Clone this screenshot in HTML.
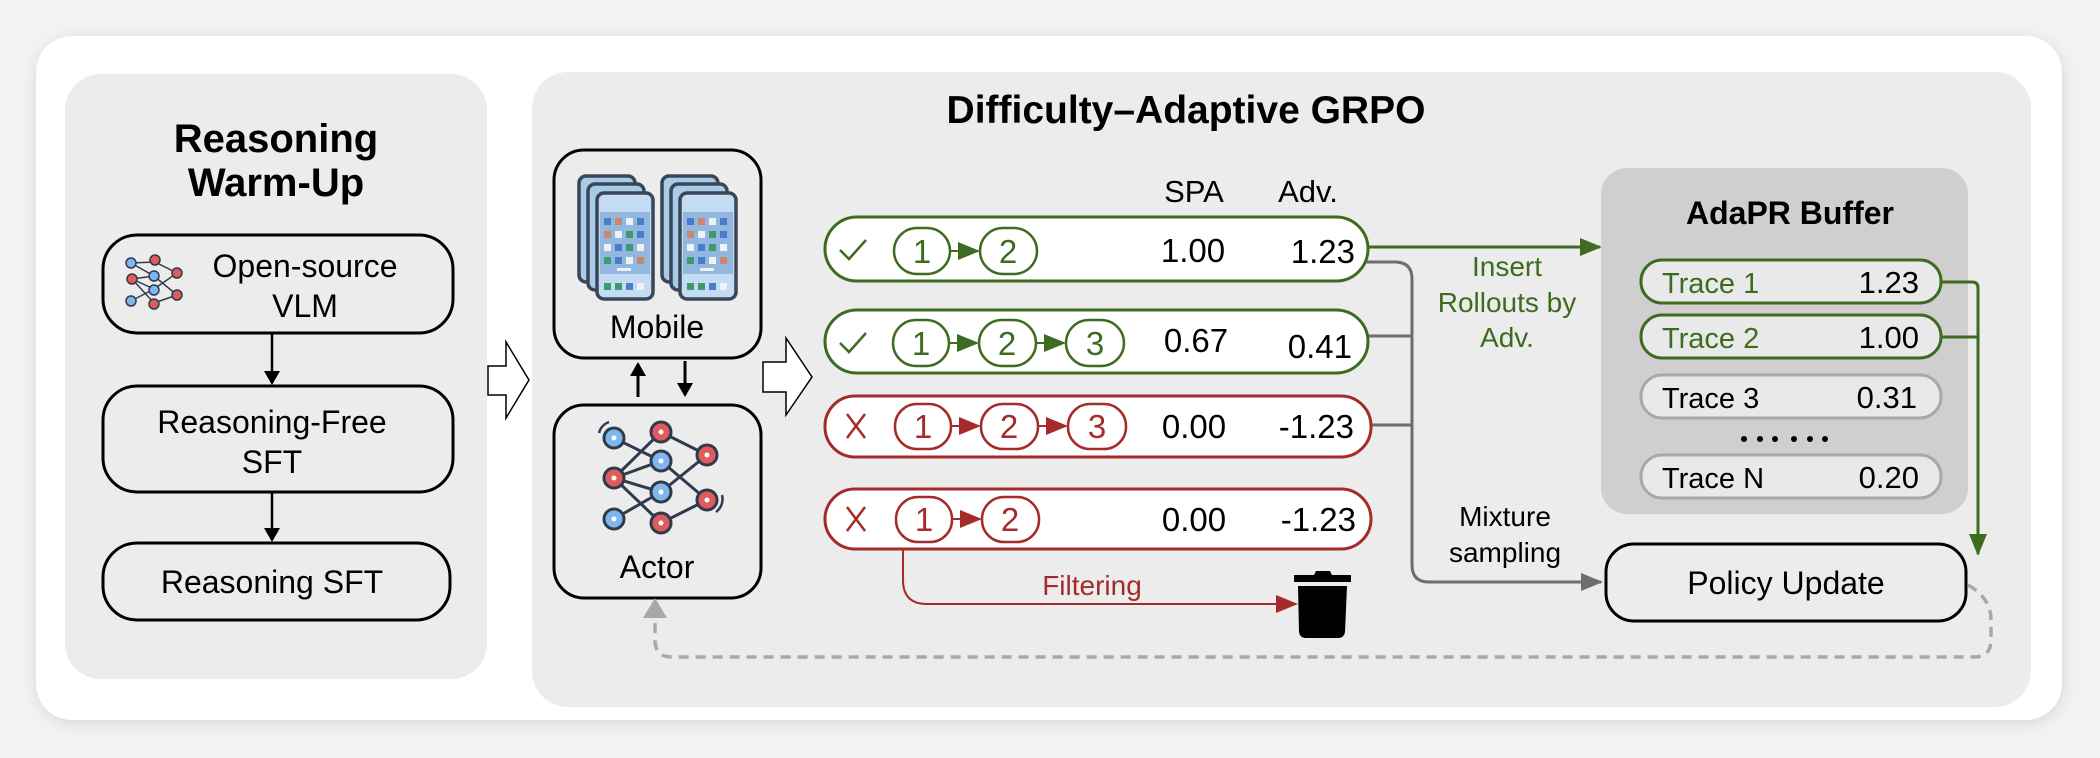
<!DOCTYPE html>
<html><head><meta charset="utf-8"><style>
html,body{margin:0;padding:0;background:#f2f2f2;}
svg{display:block;font-family:"Liberation Sans",Arial,sans-serif;}
</style></head><body>
<svg width="2100" height="758" viewBox="0 0 2100 758" xmlns="http://www.w3.org/2000/svg">
<defs>
<filter id="sh" x="-5%" y="-10%" width="110%" height="120%"><feGaussianBlur stdDeviation="8"/></filter>
<marker id="ab" markerWidth="14" markerHeight="16" refX="12" refY="8" orient="auto" markerUnits="userSpaceOnUse"><path d="M0,0 L14,8 L0,16 z" fill="#000"/></marker>
<marker id="ag" markerWidth="22" markerHeight="18" refX="20" refY="9" orient="auto" markerUnits="userSpaceOnUse"><path d="M0,0 L22,9 L0,18 z" fill="#3d6b1f"/></marker>
<marker id="agr" markerWidth="22" markerHeight="18" refX="20" refY="9" orient="auto" markerUnits="userSpaceOnUse"><path d="M0,0 L22,9 L0,18 z" fill="#6e6e6e"/></marker>
<marker id="ar" markerWidth="22" markerHeight="18" refX="20" refY="9" orient="auto" markerUnits="userSpaceOnUse"><path d="M0,0 L22,9 L0,18 z" fill="#a52a2a"/></marker>
<marker id="ad" markerWidth="20" markerHeight="24" refX="18" refY="12" orient="auto" markerUnits="userSpaceOnUse"><path d="M0,0 L20,12 L0,24 z" fill="#a8a8a8"/></marker>
</defs>
<rect x="0" y="0" width="2100" height="758" fill="#f2f2f2"/>
<rect x="38" y="40" width="2024" height="682" rx="36" fill="#000" opacity="0.12" filter="url(#sh)"/>
<rect x="36" y="36" width="2026" height="684" rx="36" fill="#fff"/>
<!-- left panel -->
<rect x="65" y="74" width="422" height="605" rx="36" fill="#ececec"/>
<text x="276" y="152" font-size="40" font-weight="bold" text-anchor="middle">Reasoning</text>
<text x="276" y="196" font-size="40" font-weight="bold" text-anchor="middle">Warm-Up</text>
<rect x="103" y="235" width="350" height="98" rx="34" fill="#ececec" stroke="#000" stroke-width="3"/>
<g stroke="#2f3b4c" stroke-width="1.5">
<line x1="131" y1="263" x2="155" y2="262"/><line x1="131" y1="263" x2="154" y2="276"/><line x1="132" y1="279" x2="154" y2="276"/><line x1="132" y1="279" x2="154" y2="289"/><line x1="131" y1="301" x2="154" y2="289"/><line x1="155" y1="262" x2="177" y2="273"/><line x1="154" y1="276" x2="177" y2="295"/><line x1="154" y1="289" x2="177" y2="273"/><line x1="154" y1="303" x2="177" y2="295"/><line x1="132" y1="279" x2="154" y2="303"/>
</g>
<g stroke="#2f3b4c" stroke-width="1.5">
<circle cx="131" cy="263" r="5" fill="#7fb6ee"/><circle cx="132" cy="279" r="5" fill="#e05b5b"/><circle cx="131" cy="301" r="5" fill="#7fb6ee"/>
<circle cx="155" cy="260" r="5" fill="#e05b5b"/><circle cx="154" cy="276" r="5" fill="#7fb6ee"/><circle cx="154" cy="290" r="5" fill="#7fb6ee"/><circle cx="154" cy="304" r="5" fill="#e05b5b"/>
<circle cx="177" cy="273" r="5" fill="#e05b5b"/><circle cx="177" cy="295" r="5" fill="#e05b5b"/>
</g>
<text x="305" y="277" font-size="32" text-anchor="middle">Open-source</text>
<text x="305" y="317" font-size="32" text-anchor="middle">VLM</text>
<line x1="272" y1="334" x2="272" y2="383" stroke="#000" stroke-width="2.5" marker-end="url(#ab)"/>
<rect x="103" y="386" width="350" height="106" rx="34" fill="#ececec" stroke="#000" stroke-width="3"/>
<text x="272" y="433" font-size="32" text-anchor="middle">Reasoning-Free</text>
<text x="272" y="473" font-size="32" text-anchor="middle">SFT</text>
<line x1="272" y1="493" x2="272" y2="540" stroke="#000" stroke-width="2.5" marker-end="url(#ab)"/>
<rect x="103" y="543" width="347" height="77" rx="34" fill="#ececec" stroke="#000" stroke-width="3"/>
<text x="272" y="593" font-size="32" text-anchor="middle">Reasoning SFT</text>
<path d="M488,366 L506,366 L506,342 L529,380 L506,418 L506,395 L488,395 Z" fill="#fff" stroke="#000" stroke-width="1.5"/>
<!-- right panel -->
<rect x="532" y="72" width="1499" height="635" rx="36" fill="#ececec"/>
<text x="1186" y="123" font-size="39" font-weight="bold" text-anchor="middle">Difficulty–Adaptive GRPO</text>
<!-- Mobile box -->
<rect x="554" y="150" width="207" height="208" rx="30" fill="#ececec" stroke="#000" stroke-width="3"/>
<g stroke="#3a4656" stroke-width="3.5">
<rect x="579" y="176" width="56" height="106" rx="7" fill="#a9cbea"/>
<rect x="588" y="184" width="56" height="106" rx="7" fill="#a9cbea"/>
<rect x="597" y="193" width="56" height="106" rx="7" fill="#c3dcf3"/>
<rect x="662" y="176" width="56" height="106" rx="7" fill="#a9cbea"/>
<rect x="671" y="184" width="56" height="106" rx="7" fill="#a9cbea"/>
<rect x="680" y="193" width="56" height="106" rx="7" fill="#c3dcf3"/>
</g>
<rect x="600" y="212" width="50" height="62" fill="#93b8e0"/><rect x="683" y="212" width="50" height="62" fill="#93b8e0"/>
<g id="apps">
<g fill="#4a7cc9"><rect x="604" y="218" width="7" height="7"/><rect x="637" y="218" width="7" height="7"/><rect x="637" y="231" width="7" height="7"/><rect x="615" y="244" width="7" height="7"/><rect x="615" y="257" width="7" height="7"/><rect x="626" y="283" width="7" height="7"/></g>
<g fill="#3e9c6c"><rect x="626" y="231" width="7" height="7"/><rect x="626" y="244" width="7" height="7"/><rect x="604" y="257" width="7" height="7"/><rect x="604" y="283" width="7" height="7"/><rect x="615" y="283" width="7" height="7"/></g>
<g fill="#c88870"><rect x="615" y="218" width="7" height="7"/><rect x="604" y="231" width="7" height="7"/><rect x="637" y="257" width="7" height="7"/></g>
<g fill="#eef2f6"><rect x="626" y="218" width="7" height="7"/><rect x="615" y="231" width="7" height="7"/><rect x="604" y="244" width="7" height="7"/><rect x="637" y="244" width="7" height="7"/><rect x="626" y="257" width="7" height="7"/><rect x="637" y="283" width="7" height="7"/><rect x="617" y="268" width="14" height="3"/></g>
</g>
<use href="#apps" x="83" y="0"/>
<text x="657" y="338" font-size="32" text-anchor="middle">Mobile</text>
<line x1="638" y1="397" x2="638" y2="364" stroke="#000" stroke-width="3" marker-end="url(#ab)"/>
<line x1="685" y1="361" x2="685" y2="395" stroke="#000" stroke-width="3" marker-end="url(#ab)"/>
<!-- Actor box -->
<rect x="554" y="405" width="207" height="193" rx="30" fill="#ececec" stroke="#000" stroke-width="3"/>
<g stroke="#2f3b4c" stroke-width="3">
<line x1="614" y1="438" x2="661" y2="461"/><line x1="614" y1="478" x2="661" y2="432"/><line x1="614" y1="478" x2="661" y2="461"/><line x1="614" y1="478" x2="661" y2="492"/><line x1="614" y1="478" x2="661" y2="523"/><line x1="614" y1="519" x2="661" y2="492"/><line x1="661" y1="432" x2="707" y2="455"/><line x1="661" y1="461" x2="707" y2="500"/><line x1="661" y1="492" x2="707" y2="455"/><line x1="661" y1="523" x2="707" y2="500"/>
</g>
<g stroke="#2f3b4c" stroke-width="3">
<circle cx="614" cy="438" r="10" fill="#7fb6ee"/><circle cx="614" cy="478" r="10" fill="#e05b5b"/><circle cx="614" cy="519" r="10" fill="#7fb6ee"/>
<circle cx="661" cy="432" r="10" fill="#e05b5b"/><circle cx="661" cy="461" r="10" fill="#7fb6ee"/><circle cx="661" cy="492" r="10" fill="#7fb6ee"/><circle cx="661" cy="523" r="10" fill="#e05b5b"/>
<circle cx="707" cy="455" r="10" fill="#e05b5b"/><circle cx="707" cy="500" r="10" fill="#e05b5b"/>
</g>
<g fill="none" stroke="#2f3b4c" stroke-width="2.5"><path d="M599,433 A16,16 0 0 1 609,422"/><path d="M722,495 A16,16 0 0 1 716,512"/></g>
<g fill="#fff"><circle cx="614" cy="438" r="2.5"/><circle cx="614" cy="478" r="2.5"/><circle cx="614" cy="519" r="2.5"/><circle cx="661" cy="432" r="2.5"/><circle cx="661" cy="461" r="2.5"/><circle cx="661" cy="492" r="2.5"/><circle cx="661" cy="523" r="2.5"/><circle cx="707" cy="455" r="2.5"/><circle cx="707" cy="500" r="2.5"/></g>
<text x="657" y="578" font-size="32" text-anchor="middle">Actor</text>
<path d="M763,362 L786,362 L786,338 L812,377 L786,415 L786,392 L763,392 Z" fill="#fff" stroke="#000" stroke-width="1.5"/>
<!-- headers -->
<text x="1194" y="202" font-size="31" text-anchor="middle">SPA</text>
<text x="1308" y="202" font-size="31" text-anchor="middle">Adv.</text>
<g fill="none" stroke="#6e6e6e" stroke-width="3">
<path d="M1366,262 L1395,262 Q1412,262 1412,279 L1412,565 Q1412,582 1429,582 L1601,582" marker-end="url(#agr)"/>
<path d="M1368,336 L1412,336"/>
<path d="M1370,425 L1412,425"/>
</g>
<line x1="1368" y1="247" x2="1600" y2="247" stroke="#3d6b1f" stroke-width="3" marker-end="url(#ag)"/>
<text x="1507" y="276" font-size="28" fill="#3d6b1f" text-anchor="middle">Insert</text>
<text x="1507" y="312" font-size="28" fill="#3d6b1f" text-anchor="middle">Rollouts by</text>
<text x="1507" y="347" font-size="28" fill="#3d6b1f" text-anchor="middle">Adv.</text>
<text x="1505" y="526" font-size="28" text-anchor="middle">Mixture</text>
<text x="1505" y="562" font-size="28" text-anchor="middle">sampling</text>
<!-- rollout pills -->
<g font-size="33">
<rect x="825" y="217" width="543" height="64" rx="32" fill="#fff" stroke="#3d6b1f" stroke-width="3"/>
<path d="M840,250 L849,259 L866,240" fill="none" stroke="#3d6b1f" stroke-width="2.5"/>
<rect x="894" y="228" width="56" height="46" rx="23" fill="none" stroke="#3d6b1f" stroke-width="2.5"/>
<text x="922" y="263" fill="#3d6b1f" text-anchor="middle">1</text>
<line x1="950" y1="251" x2="978" y2="251" stroke="#3d6b1f" stroke-width="2" marker-end="url(#ag)"/>
<rect x="980" y="228" width="57" height="46" rx="23" fill="none" stroke="#3d6b1f" stroke-width="2.5"/>
<text x="1008" y="263" fill="#3d6b1f" text-anchor="middle">2</text>
<text x="1193" y="262" text-anchor="middle">1.00</text>
<text x="1355" y="263" text-anchor="end">1.23</text>

<rect x="825" y="310" width="543" height="63" rx="32" fill="#fff" stroke="#3d6b1f" stroke-width="3"/>
<path d="M840,343 L849,352 L866,333" fill="none" stroke="#3d6b1f" stroke-width="2.5"/>
<rect x="893" y="320" width="56" height="46" rx="23" fill="none" stroke="#3d6b1f" stroke-width="2.5"/>
<text x="921" y="355" fill="#3d6b1f" text-anchor="middle">1</text>
<line x1="949" y1="343" x2="977" y2="343" stroke="#3d6b1f" stroke-width="2" marker-end="url(#ag)"/>
<rect x="979" y="320" width="57" height="46" rx="23" fill="none" stroke="#3d6b1f" stroke-width="2.5"/>
<text x="1007" y="355" fill="#3d6b1f" text-anchor="middle">2</text>
<line x1="1036" y1="343" x2="1064" y2="343" stroke="#3d6b1f" stroke-width="2" marker-end="url(#ag)"/>
<rect x="1066" y="320" width="58" height="46" rx="23" fill="none" stroke="#3d6b1f" stroke-width="2.5"/>
<text x="1095" y="355" fill="#3d6b1f" text-anchor="middle">3</text>
<text x="1196" y="352" text-anchor="middle">0.67</text>
<text x="1352" y="358" text-anchor="end">0.41</text>

<rect x="825" y="396" width="546" height="61" rx="30" fill="#fff" stroke="#a52a2a" stroke-width="3"/>
<path d="M847,414 L865,438 M865,414 L847,438" stroke="#a52a2a" stroke-width="2.5"/>
<rect x="895" y="404" width="56" height="45" rx="22" fill="none" stroke="#a52a2a" stroke-width="2.5"/>
<text x="923" y="438" fill="#a52a2a" text-anchor="middle">1</text>
<line x1="951" y1="426" x2="979" y2="426" stroke="#a52a2a" stroke-width="2" marker-end="url(#ar)"/>
<rect x="981" y="404" width="57" height="45" rx="22" fill="none" stroke="#a52a2a" stroke-width="2.5"/>
<text x="1009" y="438" fill="#a52a2a" text-anchor="middle">2</text>
<line x1="1038" y1="426" x2="1066" y2="426" stroke="#a52a2a" stroke-width="2" marker-end="url(#ar)"/>
<rect x="1068" y="404" width="58" height="45" rx="22" fill="none" stroke="#a52a2a" stroke-width="2.5"/>
<text x="1097" y="438" fill="#a52a2a" text-anchor="middle">3</text>
<text x="1194" y="438" text-anchor="middle">0.00</text>
<text x="1354" y="438" text-anchor="end">-1.23</text>

<rect x="825" y="489" width="546" height="60" rx="30" fill="#fff" stroke="#a52a2a" stroke-width="3"/>
<path d="M847,507 L865,531 M865,507 L847,531" stroke="#a52a2a" stroke-width="2.5"/>
<rect x="896" y="497" width="56" height="45" rx="22" fill="none" stroke="#a52a2a" stroke-width="2.5"/>
<text x="924" y="531" fill="#a52a2a" text-anchor="middle">1</text>
<line x1="952" y1="519" x2="980" y2="519" stroke="#a52a2a" stroke-width="2" marker-end="url(#ar)"/>
<rect x="982" y="497" width="57" height="45" rx="22" fill="none" stroke="#a52a2a" stroke-width="2.5"/>
<text x="1010" y="531" fill="#a52a2a" text-anchor="middle">2</text>
<text x="1194" y="531" text-anchor="middle">0.00</text>
<text x="1356" y="531" text-anchor="end">-1.23</text>
</g>
<path d="M903,550 L903,580 Q903,604 927,604 L1296,604" fill="none" stroke="#a52a2a" stroke-width="2" marker-end="url(#ar)"/>
<text x="1092" y="595" font-size="28" fill="#a52a2a" text-anchor="middle">Filtering</text>
<path d="M1314,575 L1316,571 L1330,571 L1332,575 L1351,575 L1351,582 L1294,582 L1294,575 Z" fill="#000"/>
<path d="M1298,586 L1347,586 L1345,632 Q1344,638 1338,638 L1306,638 Q1300,638 1299,632 Z" fill="#000"/>
<!-- AdaPR buffer -->
<rect x="1601" y="168" width="367" height="346" rx="26" fill="#cfcfcf"/>
<text x="1790" y="224" font-size="32" font-weight="bold" text-anchor="middle">AdaPR Buffer</text>
<g font-size="29">
<rect x="1641" y="260" width="300" height="43" rx="21" fill="#e9e9e9" stroke="#3d6b1f" stroke-width="3"/>
<text x="1662" y="293" fill="#3d6b1f">Trace 1</text><text x="1919" y="293" text-anchor="end" font-size="31">1.23</text>
<rect x="1641" y="315" width="300" height="43" rx="21" fill="#e9e9e9" stroke="#3d6b1f" stroke-width="3"/>
<text x="1662" y="348" fill="#3d6b1f">Trace 2</text><text x="1919" y="348" text-anchor="end" font-size="31">1.00</text>
<rect x="1641" y="375" width="300" height="43" rx="21" fill="#e9e9e9" stroke="#a8a8a8" stroke-width="3"/>
<text x="1662" y="408" fill="#000">Trace 3</text><text x="1917" y="408" text-anchor="end" font-size="31">0.31</text>
<rect x="1641" y="455" width="300" height="43" rx="21" fill="#e9e9e9" stroke="#a8a8a8" stroke-width="3"/>
<text x="1662" y="488" fill="#000">Trace N</text><text x="1919" y="488" text-anchor="end" font-size="31">0.20</text>
</g>
<g fill="#000"><circle cx="1744" cy="439" r="3"/><circle cx="1760" cy="439" r="3"/><circle cx="1775" cy="439" r="3"/><circle cx="1794" cy="439" r="3"/><circle cx="1810" cy="439" r="3"/><circle cx="1825" cy="439" r="3"/></g>
<path d="M1941,282 L1972,282 Q1978,282 1978,288 L1978,554" fill="none" stroke="#3d6b1f" stroke-width="3" marker-end="url(#ag)"/>
<line x1="1941" y1="337" x2="1978" y2="337" stroke="#3d6b1f" stroke-width="3"/>
<rect x="1606" y="544" width="360" height="77" rx="28" fill="#ececec" stroke="#000" stroke-width="3"/>
<text x="1786" y="594" font-size="32" text-anchor="middle">Policy Update</text>
<path d="M1968,585 Q1991,598 1991,620 L1991,640 Q1991,657 1974,657 L672,657 Q655,657 655,640 L655,600" fill="none" stroke="#a8a8a8" stroke-width="3.5" stroke-dasharray="10,7" marker-end="url(#ad)"/>
</svg>
</body></html>
